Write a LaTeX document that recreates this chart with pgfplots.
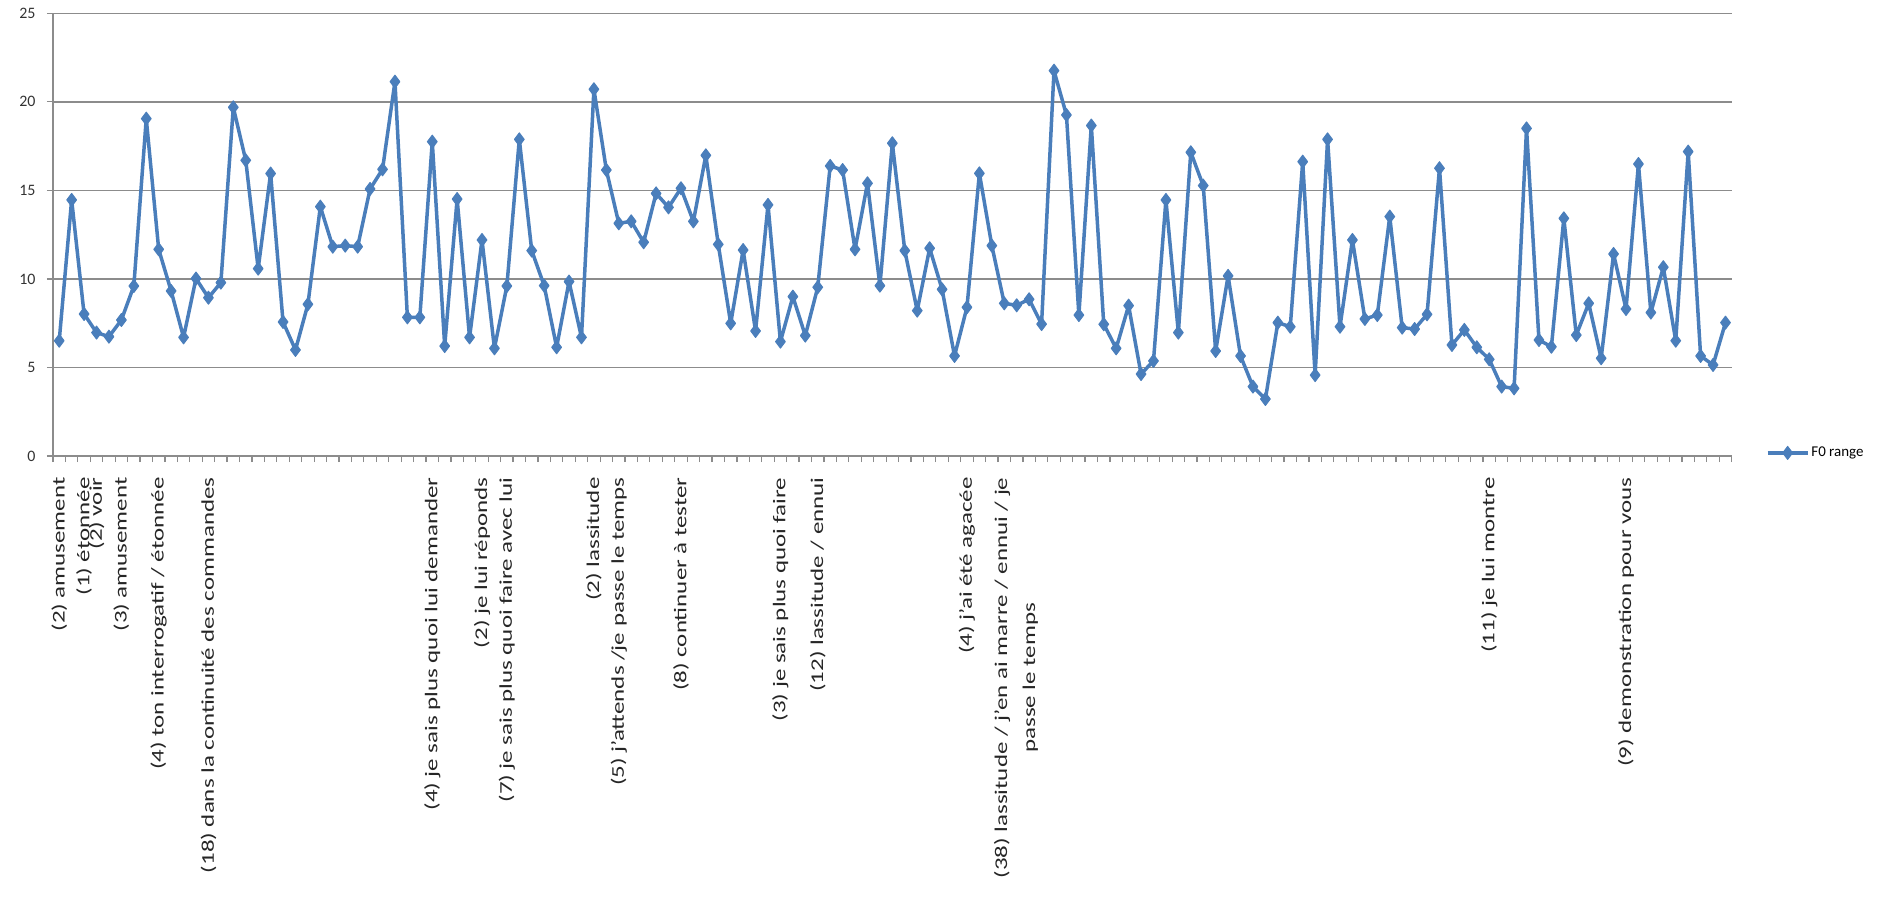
\documentclass[border=0pt]{standalone}
\usepackage{fontspec}
\setmainfont{Carlito}
\usepackage{pgfplots}
\pgfplotsset{compat=1.18}
\usepackage{pgfplotstable}
\definecolor{serblue}{HTML}{4A7EBB}
\definecolor{gridgray}{HTML}{8C8C8C}
\newcommand\lab[1]{\scalebox{1.39}[1]{#1}}
\pgfplotstableread{
k v
1 6.51
2 14.46
3 8.02
4 6.97
5 6.74
6 7.68
7 9.60
8 19.05
9 11.67
10 9.32
11 6.70
12 10.02
13 8.94
14 9.79
15 19.69
16 16.70
17 10.58
18 15.95
19 7.57
20 5.99
21 8.57
22 14.08
23 11.82
24 11.88
25 11.82
26 15.08
27 16.19
28 21.14
29 7.83
30 7.83
31 17.75
32 6.21
33 14.51
34 6.70
35 12.20
36 6.08
37 9.60
38 17.88
39 11.60
40 9.62
41 6.14
42 9.85
43 6.70
44 20.71
45 16.15
46 13.14
47 13.25
48 12.07
49 14.83
50 14.04
51 15.12
52 13.25
53 16.98
54 11.95
55 7.49
56 11.63
57 7.06
58 14.18
59 6.46
60 9.00
61 6.80
62 9.53
63 16.38
64 16.15
65 11.67
66 15.40
67 9.62
68 17.66
69 11.60
70 8.21
71 11.73
72 9.41
73 5.65
74 8.40
75 15.96
76 11.88
77 8.62
78 8.51
79 8.85
80 7.45
81 21.76
82 19.26
83 7.96
84 18.66
85 7.44
86 6.08
87 8.49
88 4.63
89 5.37
90 14.46
91 6.97
92 17.15
93 15.27
94 5.93
95 10.17
96 5.65
97 3.92
98 3.22
99 7.53
100 7.30
101 16.62
102 4.57
103 17.88
104 7.30
105 12.20
106 7.74
107 7.96
108 13.52
109 7.25
110 7.17
111 8.00
112 16.25
113 6.27
114 7.12
115 6.14
116 5.46
117 3.92
118 3.82
119 18.50
120 6.55
121 6.17
122 13.42
123 6.83
124 8.62
125 5.52
126 11.41
127 8.30
128 16.49
129 8.10
130 10.66
131 6.51
132 17.19
133 5.65
134 5.14
135 7.53
}\datatable
\begin{document}
\begin{tikzpicture}
\path[use as bounding box] (0,0) rectangle (1886bp,905bp);
\begin{axis}[
  at={(53bp,449bp)}, anchor=south west,
  scale only axis, width=1678.7bp, height=442.7bp,
  xmin=0.5, xmax=135.5, ymin=0, ymax=25,
  axis lines=left, axis line style={-, gridgray, line width=1.5bp},
  ytick={0,5,10,15,20,25},
  ymajorgrids, grid style={gridgray, line width=1.5bp},
  tick align=outside,
  major tick length=6bp, minor tick length=6bp,
  every tick/.style={gridgray, line width=1.2bp},
  major x tick style={draw=none},
  minor xtick={0.5,1.5,...,135.5},
  xtick={1,3,4,6,9,13,31,35,37,44,46,51,59,62,74,78,116,127},
  xticklabels={
    {\lab{(2) amusement}},
    {\lab{(1) étonnée}},
    {\lab{(2) voir}},
    {\lab{(3) amusement}},
    {\lab{(4) ton interrogatif / étonnée}},
    {\lab{(18) dans la continuité  des commandes}},
    {\lab{(4) je sais plus  quoi  lui demander}},
    {\lab{(2) je lui réponds}},
    {\lab{(7) je sais plus quoi faire avec lui}},
    {\lab{(2) lassitude}},
    {\lab{(5) j'attends /je passe le temps}},
    {\lab{(8) continuer à tester}},
    {\lab{(3) je sais plus quoi faire}},
    {\lab{(12) lassitude / ennui}},
    {\lab{(4) j'ai été agacée}},
    {\lab{\begin{tabular}{@{}c@{}}(38) lassitude / j'en ai marre / ennui / je\\[6bp] passe le temps\end{tabular}}},
    {\lab{(11) je lui montre}},
    {\lab{(9) demonstration pour vous}}
  },
  xticklabel style={rotate=90, anchor=east, font=\fontsize{18}{22}\selectfont, text=black!85},
  xticklabel shift=12bp,
  yticklabel style={font=\fontsize{16}{19}\selectfont, text=black!80, xshift=-8bp},
  /pgf/number format/assume math mode=true,
  legend style={draw=none, fill=none, at={(1.0,0.007)}, anchor=west, xshift=34bp,
    font=\fontsize{15}{18}\selectfont, inner sep=0pt},
  legend image code/.code={\draw[mark repeat=2,mark phase=2,#1] plot coordinates {(0bp,0bp) (20bp,0bp) (40bp,0bp)};},
]
\addplot[serblue, line width=3.5bp, line join=round, mark=diamond*, mark size=6.5bp,
  mark options={solid, fill=serblue, draw=serblue, line width=1bp}] table[x=k, y=v] {\datatable};
\addlegendentry{F0 range}
\end{axis}
\end{tikzpicture}
\end{document}
